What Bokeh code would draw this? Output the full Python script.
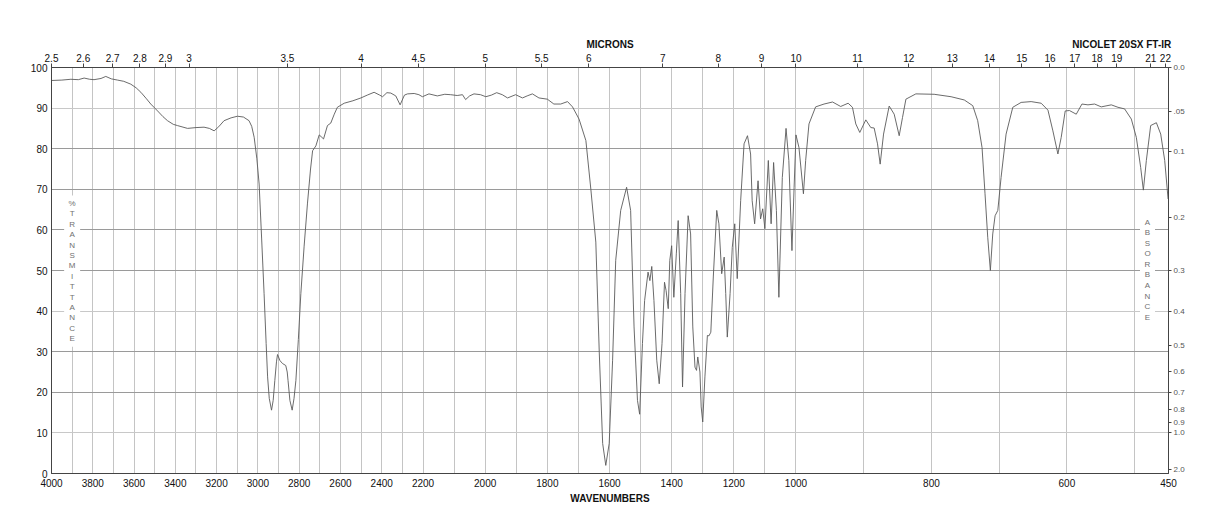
from bokeh.plotting import figure
from bokeh.models import Range1d, LinearAxis, FixedTicker, Grid
from bokeh.core.properties import value
from bokeh.embed import file_html
from bokeh.resources import INLINE

# ---------------- data ----------------
wavenumber = [4000, 3950, 3906, 3870, 3842, 3815, 3794, 3760, 3737, 3710, 3680, 3650, 3616, 3590,
              3567, 3540, 3519, 3486, 3460, 3438, 3410, 3390, 3341, 3300, 3261, 3235, 3212, 3190,
              3164, 3130, 3099, 3070, 3043, 3030, 3018, 3005, 2994, 2982, 2970, 2960, 2953, 2945,
              2934, 2926, 2918, 2910, 2905, 2893, 2881, 2865, 2858, 2854, 2845, 2834, 2825, 2816,
              2804, 2792, 2776, 2760, 2745, 2735, 2719, 2703, 2690, 2682, 2663, 2647, 2630, 2615,
              2582, 2540, 2501, 2470, 2437, 2410, 2396, 2375, 2356, 2332, 2311, 2290, 2275, 2243,
              2220, 2203, 2181, 2154, 2130, 2111, 2090, 2073, 2063, 2050, 2036, 2015, 1998, 1980,
              1963, 1945, 1928, 1902, 1880, 1865, 1848, 1827, 1800, 1779, 1757, 1735, 1719, 1698,
              1676, 1660, 1644, 1633, 1622, 1612, 1601, 1590, 1580, 1564, 1545, 1532, 1521, 1510,
              1503, 1494, 1487, 1476, 1470, 1464, 1457, 1448, 1440, 1431, 1423, 1418, 1411, 1406,
              1400, 1393, 1385, 1379, 1371, 1365, 1357, 1347, 1339, 1332, 1325, 1320, 1316, 1309,
              1305, 1300, 1293, 1285, 1280, 1274, 1266, 1255, 1248, 1239, 1231, 1226, 1221, 1212,
              1205, 1197, 1189, 1178, 1167, 1156, 1146, 1141, 1133, 1122, 1114, 1107, 1100, 1089,
              1080, 1072, 1063, 1055, 1044, 1032, 1023, 1013, 1006, 1000, 995.6, 989, 985.7, 980.8,
              971, 958.6, 946, 934, 923, 916.6, 911.7, 905.8, 896.9, 889.5, 884.6, 879.6, 875.7,
              870.7, 862.4, 855, 847.6, 842.7, 837.7, 823, 796, 771, 751.5, 739, 731.7, 725.3,
              720.9, 716.9, 713, 709.5, 706, 702, 697.2, 689.8, 679.9, 667.6, 652.8, 638, 628,
              620.7, 613.3, 608.4, 602.5, 596.2, 586.2, 577.8, 568.9, 559.1, 549.3, 534.5, 524.6,
              514.8, 504.9, 497.5, 491.1, 487.1, 482.7, 476.3, 467.9, 461.5, 455.6, 450.6]
transmittance = [96.8, 96.9, 97.1, 97.0, 97.4, 97.1, 97.0, 97.3, 97.8, 97.2, 96.9, 96.6, 95.9, 95.0,
                 93.9, 92.3, 91.0, 89.3, 87.9, 86.9, 86.0, 85.7, 85.0, 85.2, 85.3, 85.0, 84.4, 85.4,
                 86.9, 87.6, 88.0, 87.8, 86.9, 85.5, 82.8, 77.5, 71.3, 58.0, 44.3, 32.0, 23.8, 18.5,
                 15.6, 18.0, 22.9, 27.5, 29.3, 27.8, 27.1, 26.6, 25.0, 22.9, 18.0, 15.6, 18.5, 22.9,
                 33.0, 44.3, 56.0, 66.4, 75.0, 79.5, 80.7, 83.4, 82.8, 82.4, 85.7, 86.3, 88.5, 90.2,
                 91.2, 91.8, 92.5, 93.2, 93.9, 93.2, 92.8, 93.8, 93.7, 93.0, 90.8, 93.2, 93.5, 93.6,
                 93.3, 92.8, 93.5, 93.0, 93.4, 93.3, 93.1, 93.3, 92.1, 93.0, 93.5, 93.3, 92.8, 93.2,
                 93.8, 93.3, 92.5, 93.3, 92.5, 93.0, 93.5, 92.5, 92.2, 91.0, 91.0, 91.6, 90.3, 87.3,
                 82.0, 70.0, 57.0, 30.0, 7.4, 2.0, 7.4, 27.9, 52.5, 64.8, 70.5, 64.8, 36.1, 18.0,
                 14.6, 32.0, 42.6, 49.6, 47.5, 51.0, 42.6, 27.9, 22.1, 32.0, 47.1, 45.1, 40.6, 52.5,
                 56.1, 43.4, 54.1, 62.3, 44.3, 21.3, 44.3, 63.5, 59.0, 36.1, 26.2, 25.4, 28.7, 25.0,
                 16.4, 12.7, 23.8, 34.0, 33.9, 34.8, 48.4, 64.8, 61.5, 49.2, 53.3, 44.3, 33.6, 44.3,
                 55.7, 61.5, 48.0, 67.2, 81.2, 83.2, 78.7, 67.2, 61.5, 72.1, 62.7, 65.2, 60.3, 77.1,
                 61.5, 76.6, 64.8, 43.4, 72.9, 85.0, 77.1, 54.9, 70.5, 83.4, 80.3, 68.9, 77.1, 86.1,
                 90.3, 91.0, 91.5, 90.4, 91.2, 90.2, 86.1, 84.0, 87.1, 85.2, 85.1, 81.2, 76.2,
                 83.6, 90.5, 88.5, 83.2, 87.7, 92.2, 93.5, 93.4, 92.8, 92.0, 90.6, 86.9, 80.3,
                 68.9, 58.2, 50.0, 59.0, 63.5, 64.8, 72.9, 83.6, 90.2, 91.4, 91.6, 91.2, 89.5,
                 84.4, 78.7, 82.8, 89.3, 89.4, 88.5, 91.0, 90.8, 91.0, 90.3, 90.8, 90.2,
                 89.8, 87.3, 82.8, 75.4, 69.8, 77.1, 85.7, 86.4, 83.6, 77.1, 67.6]

wn_tick_labels = [4000, 3800, 3600, 3400, 3200, 3000, 2800, 2600, 2400, 2200, 2000, 1800, 1600,
                  1400, 1200, 1000, 800, 600, 450]
micron_ticks = [2.5, 2.6, 2.7, 2.8, 2.9, 3, 3.5, 4, 4.5, 5, 5.5, 6, 7, 8, 9, 10, 11, 12, 13, 14,
                15, 16, 17, 18, 19, 21, 22]
micron_labels = ["2.5", "2.6", "2.7", "2.8", "2.9", "3", "3.5", "4", "4.5", "5", "5.5", "6", "7",
                 "8", "9", "10", "11", "12", "13", "14", "15", "16", "17", "18", "19", "21", "22"]
transmittance_ticks = [0, 10, 20, 30, 40, 50, 60, 70, 80, 90, 100]
absorbance_ticks = [0.0, 0.05, 0.1, 0.2, 0.3, 0.4, 0.5, 0.6, 0.7, 0.8, 0.9, 1.0, 2.0]
absorbance_labels = ["0.0", ".05", "0.1", "0.2", "0.3", "0.4", "0.5", "0.6", "0.7", "0.8", "0.9",
                     "1.0", "2.0"]
top_titles = ["MICRONS", "NICOLET 20SX FT-IR"]

# ---------------- piecewise-linear wavenumber scale of the chart paper ----------------
S1, S2 = 0.2064, 0.3108
B1 = (4000 - 2200) * S1
B2 = B1 + (2200 - 1000) * S2
XMAX = 1117.0
S3 = (XMAX - B2) / (1000 - 450)


def xpos(w):
    if w >= 2200:
        return round((4000 - w) * S1, 4)
    if w >= 1000:
        return round(B1 + (2200 - w) * S2, 4)
    return round(B2 + (1000 - w) * S3, 4)


FONT = "Liberation Sans"

p = figure(width=1218, height=528, output_backend="svg", toolbar_location=None,
           x_range=Range1d(0, XMAX), y_range=Range1d(0, 100),
           min_border_left=51, min_border_right=50, min_border_top=67, min_border_bottom=55,
           background_fill_color="white", border_fill_color="white")
p.outline_line_color = "#444444"

# grids
p.xgrid.ticker = FixedTicker(ticks=[xpos(w) for w in range(3900, 499, -100)])
p.xgrid.grid_line_color = "#c4c4c4"
p.ygrid.ticker = FixedTicker(ticks=[20, 30, 50, 60, 70, 80])
p.ygrid.grid_line_color = "#9a9a9a"
p.add_layout(Grid(dimension=1, ticker=FixedTicker(ticks=[10, 40, 90]),
                  grid_line_color="#c8c8c8"))

# bottom axis (wavenumbers)
xb = p.xaxis[0]
xb.ticker = FixedTicker(ticks=[xpos(w) for w in wn_tick_labels])
xb.major_label_overrides = {xpos(w): str(w) for w in wn_tick_labels}
xb.axis_label = "WAVENUMBERS"

# left axis (% transmittance)
yl = p.yaxis[0]
yl.ticker = FixedTicker(ticks=transmittance_ticks)

# top axis (microns)
top = LinearAxis(ticker=FixedTicker(ticks=[xpos(10000.0 / m) for m in micron_ticks]))
top.major_label_overrides = {xpos(10000.0 / m): lab for m, lab in zip(micron_ticks, micron_labels)}
p.add_layout(top, "above")

# second top row: "MICRONS" centred, instrument name at the right
title_pos = [round(XMAX / 2, 4), 1070.3]
head = LinearAxis(ticker=FixedTicker(ticks=title_pos))
head.major_label_overrides = {v: t for v, t in zip(title_pos, top_titles)}
p.add_layout(head, "above")

# right axis (absorbance)
abs_pos = [round(100 * 10 ** (-a), 4) for a in absorbance_ticks]
right = LinearAxis(ticker=FixedTicker(ticks=abs_pos))
right.major_label_overrides = {v: lab for v, lab in zip(abs_pos, absorbance_labels)}
p.add_layout(right, "right")

for ax in (xb, yl, top, right, head):
    ax.axis_line_color = "#444444"
    ax.major_tick_line_color = "#444444"
    ax.minor_tick_line_color = None
    ax.major_tick_in = 0
    ax.major_label_text_font = FONT
    ax.major_label_text_font_size = "10px"
    ax.major_label_text_color = "#111111"
    ax.axis_label_text_font = FONT
    ax.axis_label_text_font_size = "10px"
    ax.axis_label_text_font_style = "bold"
    ax.axis_label_text_color = "#111111"

head.axis_line_color = None
head.major_tick_line_color = None
head.major_tick_out = 0
head.major_label_standoff = 1
head.major_label_text_font_style = "bold"

xb.major_tick_out = 0
xb.major_label_standoff = 5
xb.axis_label_standoff = 3
yl.major_tick_out = 0
yl.major_label_standoff = 4
top.major_tick_out = 4
top.major_label_standoff = 2
right.major_tick_out = 3
right.major_label_standoff = 2
right.major_label_text_font_size = "8px"
right.major_label_text_color = "#555555"

# stacked vertical captions with white backing
t_letters = list("%TRANSMITTANCE")
t_x = xpos(3900)
t_top, t_step = 66.5, 2.56
t_y = [t_top - i * t_step for i in range(len(t_letters))]
p.quad(left=[t_x - 8], right=[t_x + 8], bottom=[t_y[-1] - 2.0], top=[t_y[0] + 2.0],
       fill_color="white", line_color=None)
p.text(x=[t_x] * len(t_letters), y=t_y, text=t_letters, text_font=value(FONT),
       text_font_size="8px", text_color="#707070", text_align="center", text_baseline="middle")

a_letters = list("ABSORBANCE")
a_x = 1096.0
a_top, a_step = 61.9, 2.6
a_y = [a_top - i * a_step for i in range(len(a_letters))]
p.quad(left=[a_x - 7.5], right=[a_x + 7.5], bottom=[a_y[-1] - 2.0], top=[a_y[0] + 2.0],
       fill_color="white", line_color=None)
p.text(x=[a_x] * len(a_letters), y=a_y, text=a_letters, text_font=value(FONT),
       text_font_size="8px", text_color="#707070", text_align="center", text_baseline="middle")

# spectrum
p.line(x=[xpos(w) for w in wavenumber], y=transmittance, line_color="#5a5a5a", line_width=0.9)

open("out.html", "w").write(file_html(p, INLINE))
